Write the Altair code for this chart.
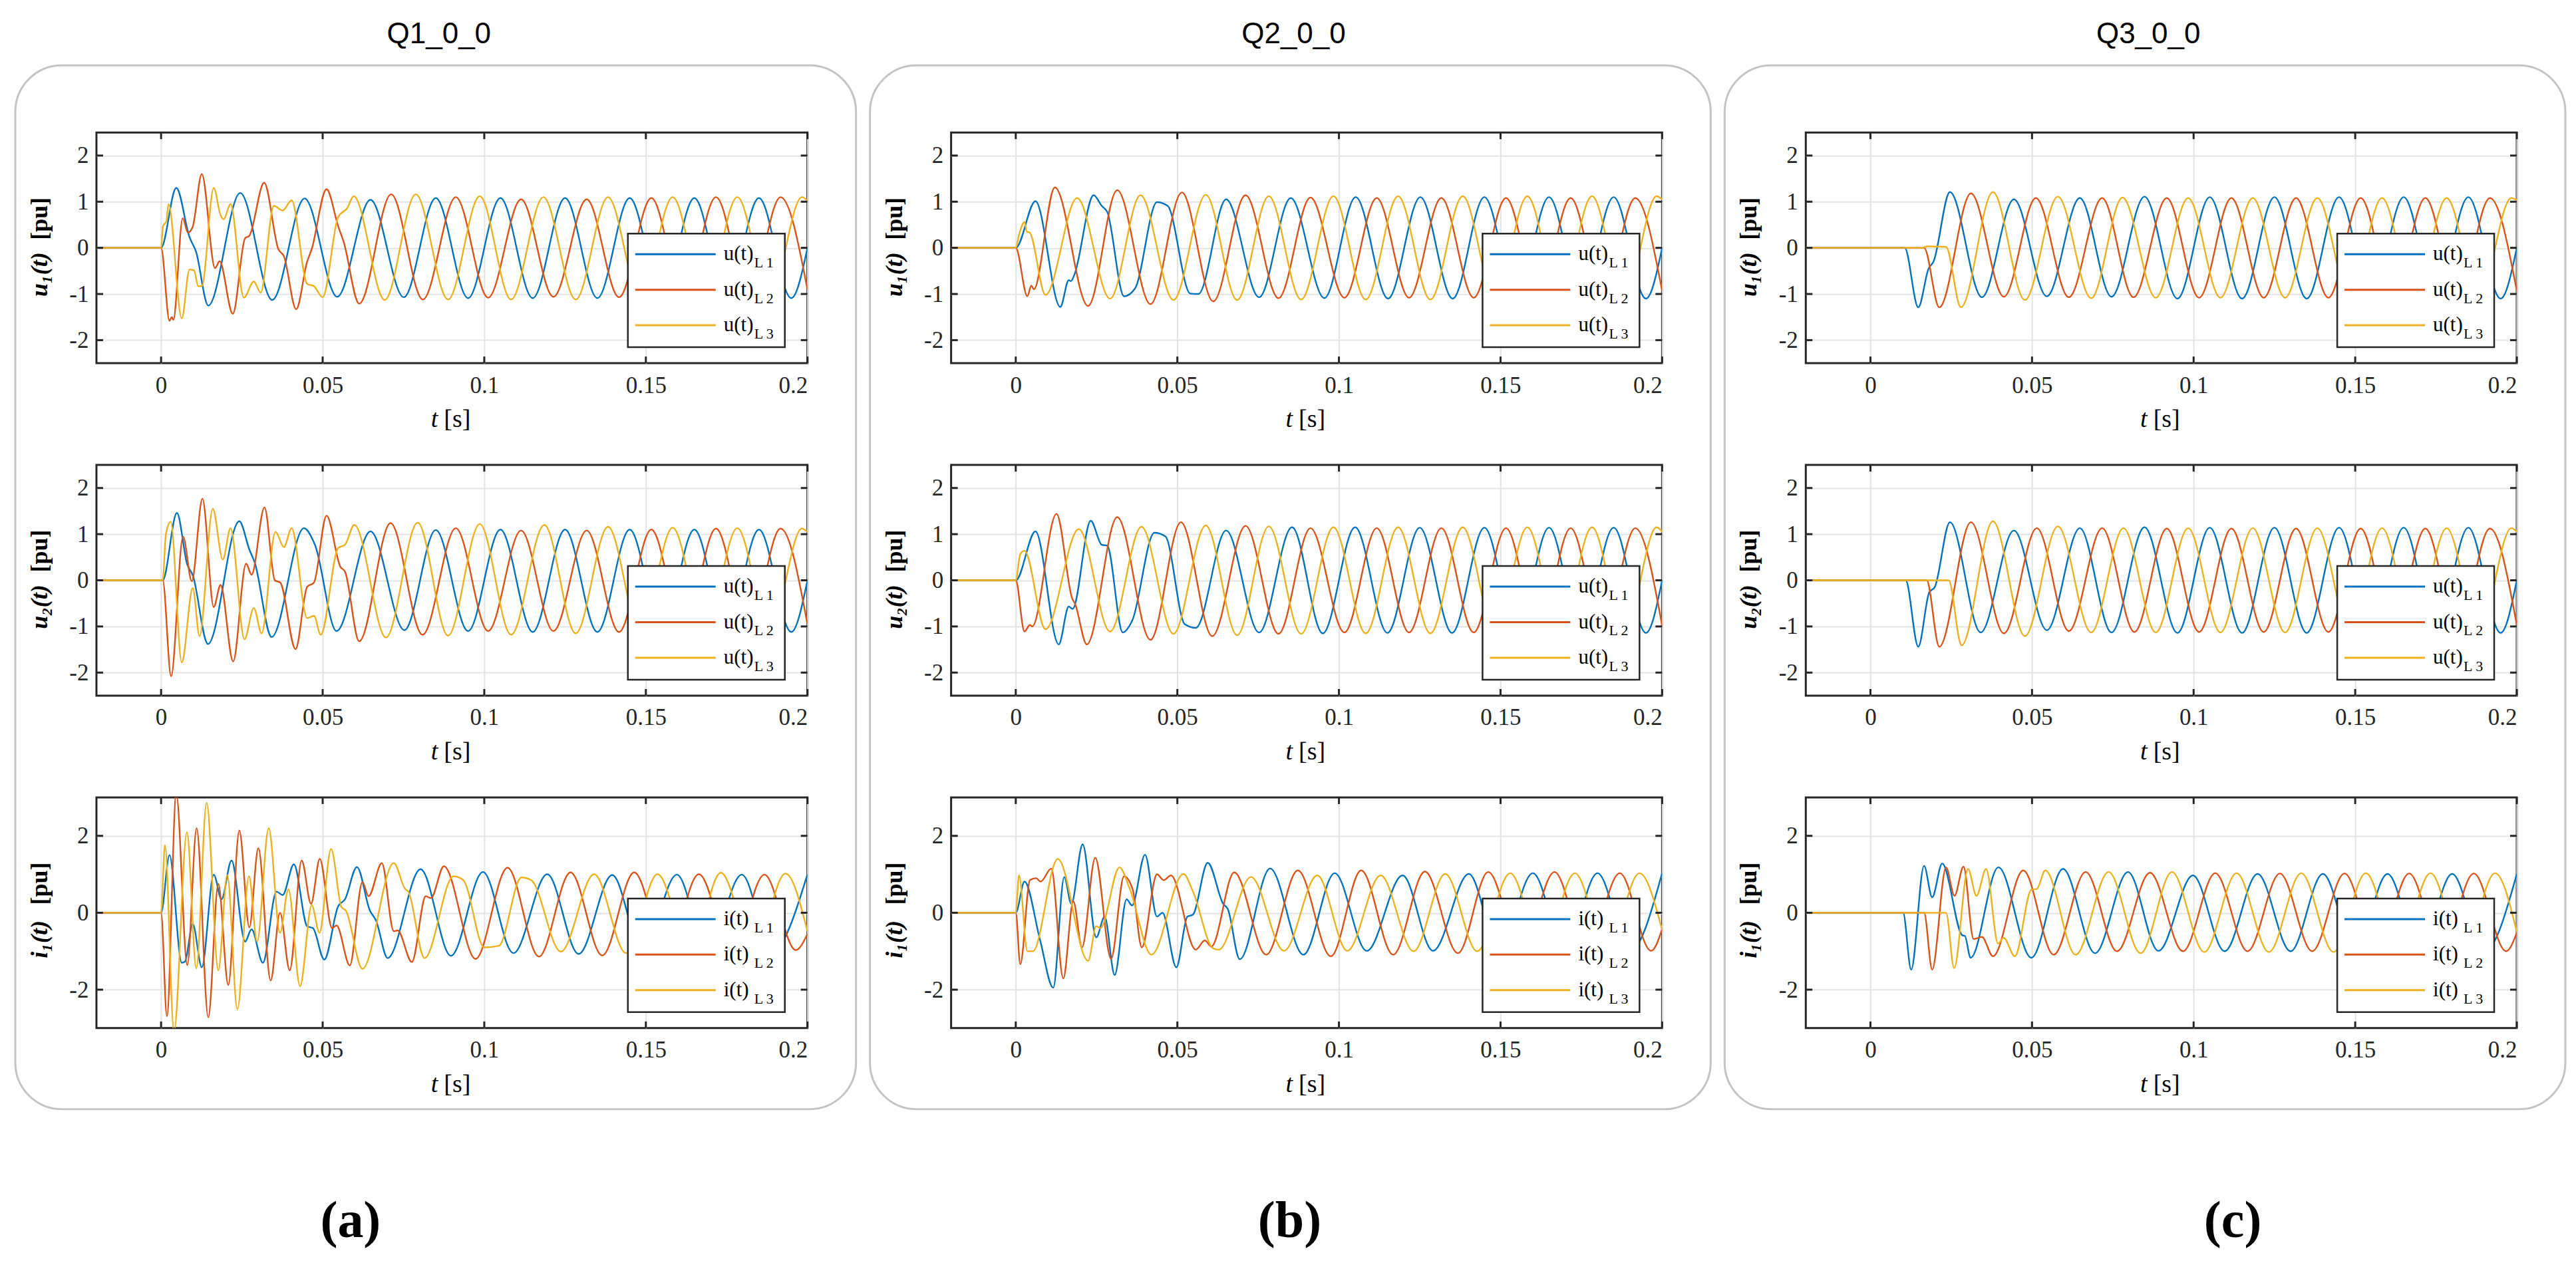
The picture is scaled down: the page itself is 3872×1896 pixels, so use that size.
import altair as alt
import pandas as pd

# ---------------- data: (t [s], value [pu]) ----------------
# Column (a) Q1_0_0
Q1_U1_L1 = [(-0.02,0),(0,0),(0.0047,1.30),(0.0088,0.23),(0.0108,-0.08),(0.0146,-1.25),(0.0245,1.19),(0.0344,-1.13),(0.0444,1.07),(0.0545,-1.06),(0.0648,1.04),(0.0751,-1.07),(0.085,1.08),(0.095,-1.09),(0.105,1.08),(0.115,-1.09),(0.125,1.08),(0.135,-1.09),(0.145,1.08),(0.155,-1.09),(0.165,1.08),(0.175,-1.09),(0.185,1.08),(0.195,-1.09),(0.2,0)]
Q1_U1_L2 = [(-0.02,0),(0,0),(0.0026,-1.58),(0.0033,-1.5),(0.0038,-1.56),(0.0067,0.64),(0.0083,0.33),(0.0098,0.46),(0.0126,1.60),(0.0167,-0.44),(0.0181,-0.29),(0.0222,-1.43),(0.026,0.21),(0.0273,0.26),(0.0319,1.41),(0.0363,-0.03),(0.038,-0.18),(0.0418,-1.33),(0.0452,-0.3),(0.0466,-0.03),(0.0512,1.27),(0.0548,0.47),(0.0565,0.13),(0.0613,-1.21),(0.0712,1.16),(0.081,-1.12),(0.0912,1.1),(0.1012,-1.08),(0.1114,1.05),(0.1214,-1.06),(0.1317,1.05),(0.1417,-1.07),(0.1517,1.08),(0.1617,-1.07),(0.1717,1.1),(0.1817,-1.07),(0.1917,1.1),(0.2,-0.9)]
Q1_U1_L3 = [(-0.02,0),(0,0),(0.0006,0.47),(0.0016,0.57),(0.0023,0.95),(0.0064,-1.53),(0.0088,-0.47),(0.0102,-0.49),(0.0115,-0.83),(0.0126,-0.83),(0.0163,1.30),(0.0184,0.71),(0.0194,0.62),(0.0215,0.95),(0.0256,-1.08),(0.0287,-0.73),(0.0308,-0.97),(0.0349,0.91),(0.0376,0.81),(0.0404,1.03),(0.0452,-0.78),(0.0473,-0.83),(0.05,-1.07),(0.0548,0.67),(0.0576,0.86),(0.0596,1.12),(0.0692,-1.13),(0.0788,1.16),(0.0888,-1.12),(0.0986,1.12),(0.1083,-1.12),(0.1183,1.1),(0.1283,-1.12),(0.1383,1.1),(0.1483,-1.1),(0.1583,1.1),(0.1683,-1.1),(0.1783,1.1),(0.1883,-1.1),(0.1983,1.1),(0.2,1.02)]

Q1_U2_L1 = [(-0.02,0),(0.0005,0),(0.0049,1.46),(0.0081,0.34),(0.0098,0.11),(0.0145,-1.38),(0.0242,1.28),(0.0273,0.67),(0.029,0.38),(0.0342,-1.23),(0.0442,1.13),(0.0476,0.77),(0.0543,-1.10),(0.0648,1.06),(0.0753,-1.08),(0.085,1.09),(0.095,-1.1),(0.105,1.1),(0.115,-1.12),(0.125,1.1),(0.135,-1.12),(0.145,1.1),(0.155,-1.12),(0.165,1.1),(0.175,-1.12),(0.185,1.1),(0.195,-1.12),(0.2,0)]
Q1_U2_L2 = [(-0.02,0),(0.0005,0),(0.0031,-2.08),(0.0068,0.95),(0.0095,-0.02),(0.0128,1.77),(0.0163,-0.58),(0.0184,-0.1),(0.0223,-1.76),(0.0263,0.36),(0.028,0.12),(0.032,1.58),(0.0352,0.0),(0.0369,-0.05),(0.0416,-1.49),(0.0452,-0.14),(0.0473,-0.05),(0.0512,1.40),(0.0555,0.29),(0.0569,0.19),(0.0613,-1.32),(0.071,1.24),(0.0809,-1.18),(0.0912,1.13),(0.1012,-1.1),(0.1114,1.08),(0.1214,-1.1),(0.1317,1.08),(0.1417,-1.12),(0.1517,1.1),(0.1617,-1.1),(0.1717,1.12),(0.1817,-1.1),(0.1917,1.12),(0.2,-0.95)]
Q1_U2_L3 = [(-0.02,0),(0.0005,0),(0.0015,1.01),(0.003,1.27),(0.0064,-1.78),(0.0098,-0.17),(0.0119,-1.21),(0.016,1.55),(0.0191,0.45),(0.0215,1.13),(0.0258,-1.28),(0.0287,-0.6),(0.0311,-1.15),(0.0354,1.05),(0.038,0.72),(0.0404,1.13),(0.0452,-0.82),(0.0473,-0.77),(0.0494,-1.18),(0.0548,0.7),(0.0569,0.77),(0.0598,1.20),(0.0696,-1.24),(0.0794,1.25),(0.0888,-1.2),(0.0986,1.22),(0.1083,-1.18),(0.1186,1.2),(0.1283,-1.15),(0.1383,1.16),(0.1483,-1.14),(0.1583,1.14),(0.1683,-1.12),(0.1783,1.13),(0.1883,-1.12),(0.1983,1.12),(0.2,1.05)]

Q1_I1_L1 = [(-0.02,0),(0,0),(0.0026,1.50),(0.0064,-1.30),(0.0074,-1.27),(0.0098,-0.29),(0.0126,-1.42),(0.0163,0.99),(0.0187,0.35),(0.0218,1.36),(0.026,-0.75),(0.028,-0.43),(0.0315,-1.30),(0.0357,0.55),(0.0376,0.46),(0.0411,1.26),(0.0452,-0.35),(0.047,-0.4),(0.0505,-1.22),(0.0548,0.17),(0.0569,0.35),(0.0606,1.19),(0.0646,0.06),(0.0665,-0.2),(0.0701,-1.18),(0.0803,1.13),(0.0897,-1.12),(0.0996,1.06),(0.109,-1.05),(0.1195,1.0),(0.1292,-1.07),(0.1396,0.98),(0.149,-1.02),(0.1596,0.99),(0.169,-1.0),(0.1797,0.99),(0.189,-1.0),(0.2,1.0)]
Q1_I1_L2 = [(-0.02,0),(0,0),(0.0018,-2.69),(0.0047,3.1),(0.0081,-1.36),(0.011,2.2),(0.0146,-2.72),(0.0177,0.75),(0.0208,-1.88),(0.0242,2.14),(0.0273,-0.38),(0.0301,1.68),(0.0339,-1.76),(0.0368,0.0),(0.0398,-1.5),(0.0435,1.36),(0.0464,0.23),(0.0491,1.40),(0.0529,-0.4),(0.0543,-0.33),(0.0584,-1.37),(0.0623,0.8),(0.0642,0.43),(0.0683,1.29),(0.072,-0.48),(0.0732,-0.46),(0.0776,-1.28),(0.0819,0.43),(0.0835,0.38),(0.0875,1.21),(0.0973,-1.2),(0.1072,1.17),(0.1169,-1.14),(0.1267,1.05),(0.1365,-1.11),(0.1464,1.05),(0.1564,-1.05),(0.1664,1.0),(0.1766,-1.01),(0.1867,0.99),(0.1964,-0.97),(0.2,-0.55)]
Q1_I1_L3 = [(-0.02,0),(0,0),(0.0012,1.76),(0.004,-3.1),(0.008,2.09),(0.0109,-1.45),(0.0141,2.86),(0.0177,-1.5),(0.0205,0.98),(0.0236,-2.51),(0.0272,0.95),(0.0297,-0.75),(0.0333,2.2),(0.0368,-0.52),(0.0394,0.61),(0.043,-1.91),(0.0466,0.2),(0.049,-0.52),(0.0526,1.66),(0.0558,0.15),(0.0572,0.05),(0.0623,-1.46),(0.072,1.29),(0.0755,0.62),(0.0765,0.55),(0.0815,-1.18),(0.0905,0.95),(0.0935,0.85),(0.1,-0.9),(0.1045,-0.86),(0.1115,0.92),(0.1145,0.85),(0.1237,-1.01),(0.134,1.0),(0.1439,-1.05),(0.1536,1.0),(0.1638,-1.01),(0.1732,1.04),(0.1834,-1.01),(0.1932,1.02),(0.2,-0.48)]

# Column (b) Q2_0_0
Q2_U1_L1 = [(-0.02,0),(0,0),(0.0061,1.01),(0.0138,-1.28),(0.0164,-0.70),(0.0171,-0.72),(0.0181,-0.59),(0.0241,1.14),(0.0266,0.91),(0.0283,0.78),(0.0335,-1.05),(0.0369,-0.88),(0.0437,0.99),(0.047,0.91),(0.054,-0.99),(0.0565,-1.0),(0.0651,1.05),(0.0753,-1.07),(0.0851,1.08),(0.0955,-1.09),(0.1052,1.1),(0.1152,-1.1),(0.1252,1.1),(0.1352,-1.1),(0.145,1.1),(0.155,-1.1),(0.165,1.1),(0.175,-1.1),(0.185,1.1),(0.195,-1.1),(0.2,0)]
Q2_U1_L2 = [(-0.02,0),(0,0),(0.0036,-1.05),(0.0048,-0.82),(0.0056,-0.9),(0.0121,1.31),(0.0224,-1.26),(0.0314,1.25),(0.0417,-1.22),(0.0514,1.2),(0.0611,-1.16),(0.0711,1.14),(0.0813,-1.09),(0.0912,1.09),(0.1017,-1.08),(0.1117,1.08),(0.1217,-1.08),(0.1317,1.08),(0.1417,-1.08),(0.1517,1.08),(0.1617,-1.08),(0.1717,1.08),(0.1817,-1.08),(0.1917,1.08),(0.2,-0.93)]
Q2_U1_L3 = [(-0.02,0),(0,0),(0.001,0.28),(0.0027,0.56),(0.0034,0.35),(0.0043,0.33),(0.0092,-1.02),(0.019,1.08),(0.0292,-1.1),(0.0386,1.14),(0.0488,-1.13),(0.0588,1.15),(0.0685,-1.13),(0.0783,1.12),(0.0883,-1.12),(0.0983,1.12),(0.1083,-1.12),(0.1183,1.12),(0.1283,-1.12),(0.1383,1.12),(0.1483,-1.12),(0.1583,1.12),(0.1683,-1.12),(0.1783,1.12),(0.1883,-1.12),(0.1983,1.12),(0.2,1.05)]

Q2_U2_L1 = [(-0.02,0),(0,0),(0.0061,1.06),(0.0133,-1.39),(0.0164,-0.57),(0.0176,-0.62),(0.0232,1.29),(0.0266,0.77),(0.0283,0.75),(0.0331,-1.13),(0.036,-0.88),(0.0429,1.03),(0.0463,0.95),(0.0523,-0.95),(0.0557,-1.03),(0.0651,1.08),(0.0753,-1.13),(0.0855,1.15),(0.095,-1.15),(0.105,1.15),(0.115,-1.14),(0.125,1.14),(0.135,-1.14),(0.145,1.14),(0.155,-1.14),(0.165,1.14),(0.175,-1.14),(0.185,1.14),(0.195,-1.14),(0.2,0)]
Q2_U2_L2 = [(-0.02,0),(0,0),(0.0027,-1.11),(0.0044,-0.97),(0.0051,-1.0),(0.0126,1.44),(0.0175,-0.4),(0.0183,-0.5),(0.022,-1.39),(0.0314,1.37),(0.0417,-1.29),(0.0511,1.26),(0.0608,-1.21),(0.0711,1.18),(0.0813,-1.16),(0.0912,1.13),(0.1017,-1.13),(0.1117,1.13),(0.1217,-1.13),(0.1317,1.13),(0.1417,-1.13),(0.1517,1.13),(0.1617,-1.13),(0.1717,1.13),(0.1817,-1.13),(0.1917,1.13),(0.2,-0.98)]
Q2_U2_L3 = [(-0.02,0),(0,0),(0.0014,0.57),(0.0027,0.64),(0.0092,-1.06),(0.0195,1.11),(0.0292,-1.11),(0.0389,1.16),(0.0488,-1.16),(0.0588,1.19),(0.0685,-1.19),(0.0783,1.17),(0.0883,-1.16),(0.0983,1.15),(0.1083,-1.15),(0.1183,1.15),(0.1283,-1.15),(0.1383,1.15),(0.1483,-1.15),(0.1583,1.15),(0.1683,-1.15),(0.1783,1.15),(0.1883,-1.15),(0.1983,1.15),(0.2,1.05)]

Q2_I1_L1 = [(-0.02,0),(0,0),(0.0027,0.81),(0.0075,-0.7),(0.0116,-1.95),(0.015,0.93),(0.0172,0.23),(0.0207,1.78),(0.0249,-0.64),(0.0275,-0.1),(0.0306,-1.62),(0.0343,0.35),(0.036,0.19),(0.040,1.51),(0.0437,-0.1),(0.0454,0.0),(0.0497,-1.42),(0.0531,-0.1),(0.0548,-0.05),(0.0594,1.30),(0.0642,0.23),(0.0656,0.1),(0.0693,-1.21),(0.0787,1.15),(0.089,-1.09),(0.0987,1.03),(0.1086,-0.99),(0.1197,0.97),(0.1291,-0.99),(0.1402,1.01),(0.1496,-1.0),(0.16,1.03),(0.17,-1.0),(0.18,1.03),(0.19,-1.0),(0.2,1.03)]
Q2_I1_L2 = [(-0.02,0),(0,0),(0.0014,-1.34),(0.0044,0.85),(0.0063,0.9),(0.0077,0.81),(0.011,1.15),(0.0147,-1.71),(0.0178,0.3),(0.0205,-0.9),(0.0246,1.43),(0.0295,-1.2),(0.0335,0.95),(0.0362,0.6),(0.039,-0.9),(0.0437,1.0),(0.0458,0.85),(0.048,0.97),(0.0557,-0.96),(0.0585,-0.72),(0.0605,-0.88),(0.0676,1.05),(0.0775,-1.09),(0.0873,1.1),(0.0975,-1.13),(0.1069,1.1),(0.1168,-1.09),(0.1266,1.07),(0.1368,-1.05),(0.1462,1.06),(0.1564,-1.0),(0.1667,1.06),(0.1766,-0.99),(0.1869,1.03),(0.1966,-0.99),(0.2,-0.43)]
Q2_I1_L3 = [(-0.02,0),(0,0),(0.001,0.97),(0.0036,-1.0),(0.0053,-1.0),(0.013,1.40),(0.0224,-1.25),(0.0249,-0.35),(0.0262,-0.4),(0.0321,1.18),(0.0352,0.64),(0.042,-1.09),(0.0519,1.01),(0.0548,0.56),(0.061,-0.92),(0.0628,-0.96),(0.0728,0.93),(0.083,-0.99),(0.0933,0.97),(0.1026,-0.99),(0.1129,0.97),(0.1231,-1.0),(0.1329,1.01),(0.1428,-1.0),(0.153,1.03),(0.163,-1.0),(0.173,1.03),(0.183,-1.0),(0.193,1.03),(0.2,-0.45)]

# Column (c) Q3_0_0
Q3_U1_L1 = [(-0.02,0),(0.0106,0),(0.0148,-1.29),(0.018,-0.45),(0.0195,-0.3),(0.0246,1.21),(0.0345,-1.07),(0.0444,1.05),(0.0546,-1.05),(0.0648,1.08),(0.0746,-1.06),(0.0848,1.11),(0.095,-1.1),(0.105,1.1),(0.115,-1.1),(0.125,1.1),(0.135,-1.1),(0.145,1.1),(0.155,-1.1),(0.165,1.1),(0.175,-1.1),(0.185,1.1),(0.195,-1.1),(0.2,0)]
Q3_U1_L2 = [(-0.02,0),(0.0166,0),(0.0213,-1.29),(0.0311,1.18),(0.0413,-1.06),(0.0512,1.08),(0.0614,-1.07),(0.0717,1.08),(0.0814,-1.07),(0.0917,1.08),(0.1017,-1.08),(0.1117,1.08),(0.1217,-1.08),(0.1317,1.08),(0.1417,-1.08),(0.1517,1.08),(0.1617,-1.08),(0.1717,1.08),(0.1817,-1.08),(0.1917,1.08),(0.2,-0.93)]
Q3_U1_L3 = [(-0.02,0),(0.016,0),(0.0175,0.03),(0.0234,0.02),(0.028,-1.29),(0.0379,1.21),(0.0478,-1.13),(0.058,1.11),(0.0683,-1.09),(0.078,1.09),(0.0883,-1.08),(0.0983,1.08),(0.1083,-1.08),(0.1183,1.08),(0.1283,-1.08),(0.1383,1.08),(0.1483,-1.08),(0.1583,1.08),(0.1683,-1.08),(0.1783,1.08),(0.1883,-1.08),(0.1983,1.08),(0.2,1.03)]

Q3_U2_L1 = [(-0.02,0),(0.0109,0),(0.0148,-1.44),(0.0182,-0.26),(0.0199,-0.15),(0.0246,1.26),(0.0341,-1.13),(0.0444,1.08),(0.0546,-1.08),(0.0648,1.13),(0.0746,-1.13),(0.0848,1.15),(0.095,-1.14),(0.105,1.14),(0.115,-1.14),(0.125,1.14),(0.135,-1.14),(0.145,1.14),(0.155,-1.14),(0.165,1.14),(0.175,-1.14),(0.185,1.14),(0.195,-1.14),(0.2,0)]
Q3_U2_L2 = [(-0.02,0),(0.0174,0),(0.0213,-1.44),(0.0311,1.26),(0.0413,-1.15),(0.0515,1.13),(0.0614,-1.10),(0.0717,1.13),(0.0817,-1.12),(0.0917,1.12),(0.1017,-1.12),(0.1117,1.12),(0.1217,-1.12),(0.1317,1.12),(0.1417,-1.12),(0.1517,1.12),(0.1617,-1.12),(0.1717,1.12),(0.1817,-1.12),(0.1917,1.12),(0.2,-0.97)]
Q3_U2_L3 = [(-0.02,0),(0.0242,0),(0.0282,-1.41),(0.0379,1.28),(0.0478,-1.21),(0.058,1.17),(0.0683,-1.13),(0.0783,1.13),(0.0883,-1.13),(0.0983,1.13),(0.1083,-1.13),(0.1183,1.13),(0.1283,-1.13),(0.1383,1.13),(0.1483,-1.13),(0.1583,1.13),(0.1683,-1.13),(0.1783,1.13),(0.1883,-1.13),(0.1983,1.13),(0.2,1.05)]

Q3_I1_L1 = [(-0.02,0),(0.0101,0),(0.0126,-1.48),(0.0166,1.22),(0.0191,0.40),(0.0222,1.28),(0.0285,-0.59),(0.0292,-0.6),(0.031,-1.17),(0.0396,1.18),(0.0498,-1.17),(0.0596,1.14),(0.0695,-1.05),(0.0797,1.06),(0.0891,-0.99),(0.0998,0.97),(0.1096,-1.0),(0.1198,1.01),(0.13,-1.0),(0.14,1.01),(0.15,-1.0),(0.16,1.01),(0.17,-1.0),(0.18,1.01),(0.19,-1.0),(0.2,1.01)]
Q3_I1_L2 = [(-0.02,0),(0.0166,0),(0.0191,-1.48),(0.0234,1.18),(0.026,0.44),(0.0288,1.2),(0.0319,-0.68),(0.0345,-0.63),(0.0379,-1.13),(0.0473,1.1),(0.0567,-1.09),(0.0666,1.06),(0.0763,-1.0),(0.0865,1.04),(0.0967,-1.0),(0.1067,1.03),(0.1167,-1.0),(0.1267,1.02),(0.1367,-1.0),(0.1467,1.02),(0.1567,-1.0),(0.1667,1.02),(0.1767,-1.0),(0.1867,1.02),(0.1967,-1.0),(0.2,-0.52)]
Q3_I1_L3 = [(-0.02,0),(0.0234,0),(0.0259,-1.44),(0.0302,1.14),(0.0328,0.44),(0.0358,1.14),(0.0395,-0.8),(0.0412,-0.65),(0.0447,-1.13),(0.0498,0.6),(0.0515,0.62),(0.0541,1.10),(0.0635,-1.09),(0.0737,1.06),(0.0836,-1.05),(0.0933,1.06),(0.1033,-1.02),(0.1133,1.03),(0.1233,-1.02),(0.1333,1.03),(0.1433,-1.02),(0.1533,1.03),(0.1633,-1.02),(0.1733,1.03),(0.1833,-1.02),(0.1933,1.03),(0.2,-0.5)]

SERIES = ["L1", "L2", "L3"]
COLUMN_TITLES = ["Q1_0_0", "Q2_0_0", "Q3_0_0"]
PANEL_LABELS = ["(a)", "(b)", "(c)"]
ROW_QUANTITY = ["u\u2081(t)", "u\u2082(t)", "i\u2081(t)"]
ROW_LEGEND = ["u(t)", "u(t)", "i(t)"]
LEGEND_SUB = ["L 1", "L 2", "L 3"]
X_TICKS = [0, 0.05, 0.1, 0.15, 0.2]
U_TICKS = [-2, -1, 0, 1, 2]
I_TICKS = [-2, 0, 2]

PANELS = [
    [(Q1_U1_L1, Q1_U1_L2, Q1_U1_L3), (Q1_U2_L1, Q1_U2_L2, Q1_U2_L3), (Q1_I1_L1, Q1_I1_L2, Q1_I1_L3)],
    [(Q2_U1_L1, Q2_U1_L2, Q2_U1_L3), (Q2_U2_L1, Q2_U2_L2, Q2_U2_L3), (Q2_I1_L1, Q2_I1_L2, Q2_I1_L3)],
    [(Q3_U1_L1, Q3_U1_L2, Q3_U1_L3), (Q3_U2_L1, Q3_U2_L2, Q3_U2_L3), (Q3_I1_L1, Q3_I1_L2, Q3_I1_L3)],
]

# ---------------- styling ----------------
SERIF = "Liberation Serif"
SANS = "Liberation Sans"
COLORS = {"L1": "#0072BD", "L2": "#D95319", "L3": "#EDB120"}
INK = "#262626"
W, H = 1069, 347
LABEL_X = [382, 509, 642]
ONE = pd.DataFrame({"k": [0]})


def deco_text(text, x, y, size, font=SERIF, **kw):
    return alt.Chart(ONE).mark_text(text=text, font=font, fontSize=size, color="black", **kw).encode(
        x=alt.value(x), y=alt.value(y))


def make_panel(ci, ri):
    current = ri == 2
    ydom = [-3, 3] if current else [-2.5, 2.5]
    yticks = I_TICKS if current else U_TICKS
    xenc = alt.X("t:Q", scale=alt.Scale(domain=[-0.02, 0.2], nice=False, zero=False),
                 axis=alt.Axis(values=X_TICKS, labelExpr="'' + datum.value", title=None))
    yenc = alt.Y("v:Q", scale=alt.Scale(domain=ydom, nice=False, zero=False),
                 axis=alt.Axis(values=yticks, labelExpr="'' + datum.value", title=None))
    layers = []
    for name, pts in zip(SERIES, PANELS[ci][ri]):
        df = pd.DataFrame(pts, columns=["t", "v"])
        layers.append(alt.Chart(df).mark_line(interpolate="monotone", color=COLORS[name],
                                              strokeWidth=2.4, clip=True).encode(x=xenc, y=yenc))
    # MATLAB-style inward tick marks
    xt = pd.DataFrame({"t": X_TICKS})
    yt = pd.DataFrame({"v": yticks})
    tk = dict(color=INK, strokeWidth=3)
    layers.append(alt.Chart(xt).mark_rule(**tk).encode(x=xenc, y=alt.value(0), y2=alt.value(10)))
    layers.append(alt.Chart(xt).mark_rule(**tk).encode(x=xenc, y=alt.value(H - 10), y2=alt.value(H)))
    layers.append(alt.Chart(yt).mark_rule(**tk).encode(y=yenc, x=alt.value(0), x2=alt.value(10)))
    layers.append(alt.Chart(yt).mark_rule(**tk).encode(y=yenc, x=alt.value(W - 10), x2=alt.value(W)))

    # legend box (inside, bottom-right)
    layers.append(alt.Chart(ONE).mark_rect(fill="white", stroke=INK, strokeWidth=2.5).encode(
        x=alt.value(799), x2=alt.value(1035), y=alt.value(152), y2=alt.value(323)))
    for k, name in enumerate(SERIES):
        yy = 183 + 53.5 * k
        layers.append(alt.Chart(ONE).mark_rule(color=COLORS[name], strokeWidth=3).encode(
            x=alt.value(810), x2=alt.value(931), y=alt.value(yy)))
        layers.append(deco_text(ROW_LEGEND[ri], 943, yy, 31, align="left", baseline="middle"))
        layers.append(deco_text(LEGEND_SUB[k], 989, yy + 13, 22, align="left", baseline="middle"))

    # axis titles
    layers.append(deco_text("[pu]", -85, H / 2 - 44, 36, fontWeight="bold", angle=270,
                            align="center", baseline="middle"))
    layers.append(deco_text(ROW_QUANTITY[ri], -85, H / 2 + 40, 36, fontWeight="bold", fontStyle="italic",
                            angle=270, align="center", baseline="middle"))
    layers.append(deco_text("t", W / 2 - 21, H + 96, 38, fontStyle="italic", align="right", baseline="alphabetic"))
    layers.append(deco_text("[s]", W / 2 - 12, H + 96, 38, align="left", baseline="alphabetic"))

    if ri == 0:
        # rounded frame around the column and column title
        layers.append(alt.Chart(ONE).mark_rect(fill="white", fillOpacity=0, stroke="#c4c4c4", strokeWidth=3,
                                               cornerRadius=70).encode(
            x=alt.value(-122), x2=alt.value(1142), y=alt.value(-101), y2=alt.value(1469)))
        layers.append(deco_text(COLUMN_TITLES[ci], 515, -134, 44, font=SANS, align="center", baseline="alphabetic"))
    if ri == 2:
        layers.append(deco_text(PANEL_LABELS[ci], LABEL_X[ci], H + 314, 78, fontWeight="bold",
                                align="center", baseline="alphabetic"))

    return alt.layer(*layers).properties(width=W, height=H)


# 3x3 grid, row-major, with layout computed from the plot areas only
panels = [make_panel(ci, ri) for ri in range(3) for ci in range(3)]

chart = (
    alt.concat(*panels, columns=3, spacing={"row": 153, "column": 216}, bounds="flush")
    .properties(padding={"left": 12, "top": 20, "right": 5, "bottom": 5}, background="white")
    .configure_view(stroke=INK, strokeWidth=3)
    .configure_axis(labelFont=SERIF, labelFontSize=35, labelColor=INK, gridColor="#e4e4e4", gridWidth=2,
                    domain=False, ticks=False, tickSize=0)
    .configure_axisX(labelPadding=16)
    .configure_axisY(labelPadding=12)
)

chart.save("out.html", embed_options={"renderer": "svg", "actions": False})
